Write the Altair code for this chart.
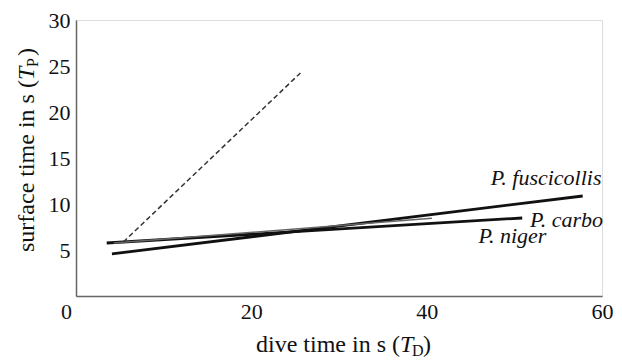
import altair as alt
import pandas as pd

# regression lines (endpoints)
species = ["P. fuscicollis", "P. carbo", "P. niger"]
x_start = [4.1, 3.5, 4.3]
x_end = [57.8, 50.9, 40.6]
y_start = [4.57, 5.76, 5.75]
y_end = [10.87, 8.48, 8.45]
widths = [3.0, 3.0, 1.5]

# dashed reference line
dash_x = [5.4, 25.6]
dash_y = [5.87, 24.24]

# species labels
label_text = ["P. fuscicollis", "P. carbo", "P. niger"]
label_x = [47.3, 51.8, 45.9]
label_y = [12.07, 7.5, 5.76]

x_ticks = [0, 20, 40, 60]
y_ticks = [5, 10, 15, 20, 25, 30]

FONT = "Liberation Serif"

rows = []
for s, xs_, xe, ys_, ye, w in zip(species, x_start, x_end, y_start, y_end, widths):
    rows.append({"sp": s, "x": xs_, "y": ys_, "w": w, "o": 0})
    rows.append({"sp": s, "x": xe, "y": ye, "w": w, "o": 1})
lines_df = pd.DataFrame(rows)
dash_df = pd.DataFrame({"x": dash_x, "y": dash_y, "o": [0, 1]})
lab_df = pd.DataFrame({"t": label_text, "x": label_x, "y": label_y})

xs = alt.Scale(domain=[0, 60], nice=False, zero=False)
ys = alt.Scale(domain=[0, 30], nice=False, zero=False)

x_axis = alt.Axis(values=x_ticks, ticks=False, grid=False, domainColor="#666",
                  domainWidth=1.5, labelFont=FONT, labelFontSize=22,
                  labelColor="#111", labelPadding=5, title=None, labelFlush=False,
                  labelOffset={"condition": {"test": "datum.value === 0", "value": -10}, "value": 0})
y_axis = alt.Axis(values=y_ticks, ticks=False, grid=False, domainColor="#666",
                  domainWidth=1.5, labelFont=FONT, labelFontSize=22,
                  labelColor="#111", labelPadding=6, title=None, labelFlush=False)

thick = alt.Chart(lines_df[lines_df.w > 2]).mark_line(color="#111", strokeWidth=2.8).encode(
    x=alt.X("x:Q", scale=xs, axis=x_axis),
    y=alt.Y("y:Q", scale=ys, axis=y_axis),
    detail="sp:N", order="o:Q")

thin = alt.Chart(lines_df[lines_df.w < 2]).mark_line(color="#666", strokeWidth=1.5).encode(
    x=alt.X("x:Q", scale=xs), y=alt.Y("y:Q", scale=ys), detail="sp:N", order="o:Q")

dashed = alt.Chart(dash_df).mark_line(color="#333", strokeWidth=1.5, strokeDash=[5, 3]).encode(
    x=alt.X("x:Q", scale=xs), y=alt.Y("y:Q", scale=ys), order="o:Q")

labels = alt.Chart(lab_df).mark_text(font=FONT, fontSize=22, fontStyle="italic",
                                      align="left", baseline="alphabetic", color="#111").encode(
    x=alt.X("x:Q", scale=xs), y=alt.Y("y:Q", scale=ys), text="t:N")

one = pd.DataFrame({"a": [0]})

def txt(text, x, y, size=24, style="normal", angle=0, align="left"):
    return alt.Chart(one).mark_text(text=text, font=FONT, fontSize=size, fontStyle=style,
                                    angle=angle, align=align, baseline="alphabetic",
                                    color="#111").encode(x=alt.value(x), y=alt.value(y))

# x-axis title: dive time in s (T_D)
xt = [
    txt("dive time in s (", 180, 332),
    txt("T", 324, 332, style="italic"),
    txt("D", 336, 336, size=16),
    txt(")", 347, 332),
]
# y-axis title: surface time in s (T_P), reading bottom to top
yt = [
    txt("surface time in s (", -42, 232, angle=270),
    txt("T", -42, 60, style="italic", angle=270),
    txt("P", -38, 47, size=16, angle=270),
    txt(")", -42, 36, angle=270),
]

chart = alt.layer(thick, thin, dashed, labels, *xt, *yt).properties(
    width=526, height=276,
    autosize=alt.AutoSizeParams(type="none"),
    padding={"left": 68, "top": 12, "right": 12, "bottom": 64},
).configure_view(stroke=None).configure(background="white")

chart.save("out.html", embed_options={"renderer": "svg", "actions": False})
